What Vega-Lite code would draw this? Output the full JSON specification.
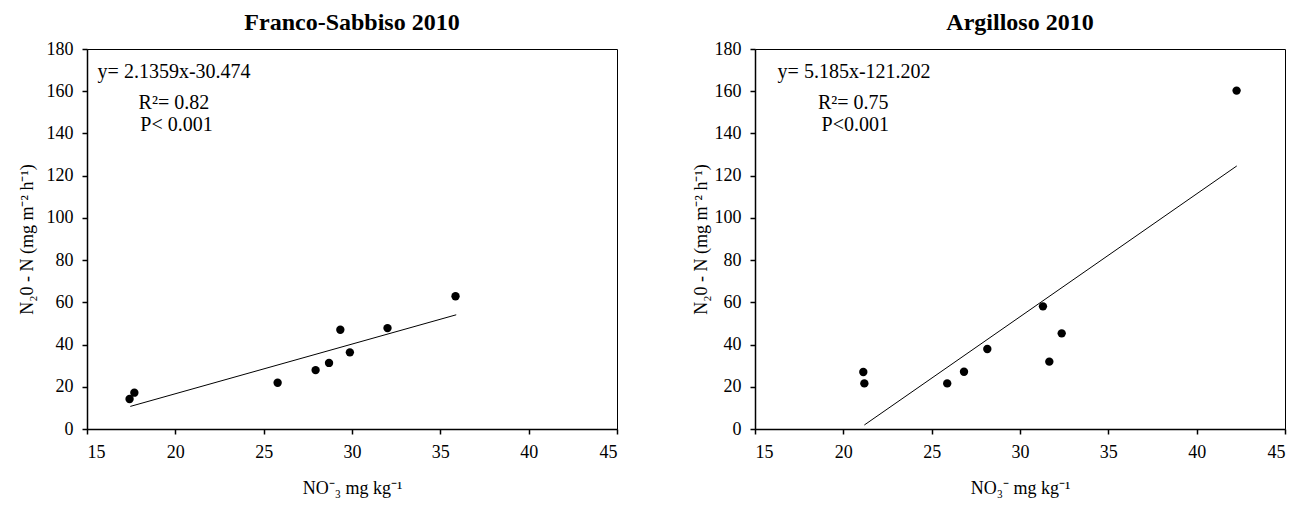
{
  "$schema": "https://vega.github.io/schema/vega-lite/v6.json",
  "padding": {"left": 17, "top": 10, "right": 5, "bottom": 0},
  "background": "white",
  "datasets": {
    "fs_pts": [
      {"x": 17.41, "y": 14.2}, {"x": 17.68, "y": 17.2}, {"x": 25.79, "y": 21.9},
      {"x": 27.94, "y": 27.9}, {"x": 28.70, "y": 31.3}, {"x": 29.34, "y": 47.0},
      {"x": 29.88, "y": 36.3}, {"x": 32.01, "y": 47.8}, {"x": 35.86, "y": 62.9}
    ],
    "fs_line": [{"x": 17.45, "y": 10.7}, {"x": 35.9, "y": 54.1}],
    "fs_txt": [
      {"x": 15.6, "y": 166.1, "label": "y= 2.1359x-30.474"},
      {"x": 17.92, "y": 151.6, "label": "R²= 0.82"},
      {"x": 18.02, "y": 141.3, "label": "P< 0.001"}
    ],
    "ar_pts": [
      {"x": 21.13, "y": 27.0}, {"x": 21.19, "y": 21.6}, {"x": 25.88, "y": 21.6},
      {"x": 26.83, "y": 27.1}, {"x": 28.15, "y": 37.9}, {"x": 31.30, "y": 58.1},
      {"x": 32.36, "y": 45.3}, {"x": 31.66, "y": 31.9}, {"x": 42.26, "y": 160.3}
    ],
    "ar_line": [{"x": 21.19, "y": 1.9}, {"x": 42.27, "y": 124.6}],
    "ar_txt": [
      {"x": 16.28, "y": 166.1, "label": "y= 5.185x-121.202"},
      {"x": 18.56, "y": 151.6, "label": "R²= 0.75"},
      {"x": 18.77, "y": 141.3, "label": "P<0.001"}
    ]
  },
  "hconcat": [
    {
      "title": {"text": "Franco-Sabbiso 2010", "fontSize": 24, "fontWeight": "bold", "offset": 5, "anchor": "middle", "font": "Liberation Serif"},
      "width": 530,
      "height": 380,
      "layer": [
        {
          "data": {"name": "fs_line"},
          "mark": {"type": "line", "color": "black", "strokeWidth": 1},
          "encoding": {
            "x": {"field": "x", "type": "quantitative", "scale": {"domain": [15, 45], "nice": false, "zero": false}, "axis": {"title": "NO⁻₃ mg kg⁻¹", "values": [15, 20, 25, 30, 35, 40, 45], "titlePadding": 18}},
            "y": {"field": "y", "type": "quantitative", "scale": {"domain": [0, 180], "nice": false}, "axis": {"title": "N₂0 - N (mg m⁻² h⁻¹)", "values": [0, 20, 40, 60, 80, 100, 120, 140, 160, 180], "titlePadding": 10}}
          }
        },
        {
          "data": {"name": "fs_pts"},
          "mark": {"type": "circle", "color": "black", "opacity": 1, "size": 70},
          "encoding": {
            "x": {"field": "x", "type": "quantitative"},
            "y": {"field": "y", "type": "quantitative"}
          }
        },
        {
          "data": {"name": "fs_txt"},
          "mark": {"type": "text", "align": "left", "baseline": "alphabetic", "fontSize": 20, "color": "black", "font": "Liberation Serif"},
          "encoding": {
            "x": {"field": "x", "type": "quantitative"},
            "y": {"field": "y", "type": "quantitative"},
            "text": {"field": "label", "type": "nominal"}
          }
        }
      ]
    },
    {
      "title": {"text": "Argilloso 2010", "fontSize": 24, "fontWeight": "bold", "offset": 5, "anchor": "middle", "font": "Liberation Serif"},
      "width": 530,
      "height": 380,
      "layer": [
        {
          "data": {"name": "ar_line"},
          "mark": {"type": "line", "color": "black", "strokeWidth": 1},
          "encoding": {
            "x": {"field": "x", "type": "quantitative", "scale": {"domain": [15, 45], "nice": false, "zero": false}, "axis": {"title": "NO₃⁻ mg kg⁻¹", "values": [15, 20, 25, 30, 35, 40, 45], "titlePadding": 18}},
            "y": {"field": "y", "type": "quantitative", "scale": {"domain": [0, 180], "nice": false}, "axis": {"title": "N₂0 - N (mg m⁻² h⁻¹)", "values": [0, 20, 40, 60, 80, 100, 120, 140, 160, 180], "titlePadding": 4}}
          }
        },
        {
          "data": {"name": "ar_pts"},
          "mark": {"type": "circle", "color": "black", "opacity": 1, "size": 70},
          "encoding": {
            "x": {"field": "x", "type": "quantitative"},
            "y": {"field": "y", "type": "quantitative"}
          }
        },
        {
          "data": {"name": "ar_txt"},
          "mark": {"type": "text", "align": "left", "baseline": "alphabetic", "fontSize": 20, "color": "black", "font": "Liberation Serif"},
          "encoding": {
            "x": {"field": "x", "type": "quantitative"},
            "y": {"field": "y", "type": "quantitative"},
            "text": {"field": "label", "type": "nominal"}
          }
        }
      ]
    }
  ],
  "spacing": 72,
  "config": {
    "font": "Liberation Serif",
    "view": {"stroke": "black", "strokeWidth": 1},
    "title": {"font": "Liberation Serif", "color": "black"},
    "text": {"font": "Liberation Serif"},
    "axis": {
      "grid": false,
      "domainColor": "black",
      "domainWidth": 1.5,
      "tickColor": "black",
      "tickWidth": 1.5,
      "tickSize": 5,
      "labelColor": "black",
      "titleColor": "black",
      "labelFont": "Liberation Serif",
      "titleFont": "Liberation Serif",
      "labelFontSize": 18,
      "titleFontSize": 18,
      "titleFontWeight": "normal",
      "labelPadding": 9
    }
  }
}
